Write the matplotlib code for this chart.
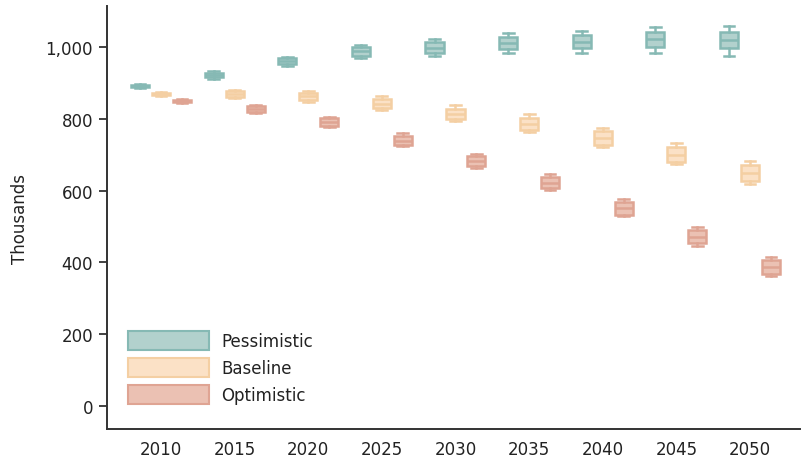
import matplotlib
matplotlib.use("Agg")
import matplotlib.pyplot as plt
from matplotlib.patches import Patch

years = ["2010", "2015", "2020", "2025", "2030", "2035", "2040", "2045", "2050"]
series = ["Pessimistic", "Baseline", "Optimistic"]

# per year: (whisker_low, q1, median, q3, whisker_high)
pessimistic = [
    (886, 888, 891, 894, 896),
    (912, 916, 922, 928, 932),
    (946, 952, 960, 968, 973),
    (968, 975, 988, 1000, 1006),
    (974, 984, 998, 1013, 1021),
    (982, 994, 1010, 1028, 1038),
    (983, 996, 1015, 1034, 1045),
    (984, 1001, 1021, 1042, 1056),
    (976, 996, 1019, 1041, 1057),
]
baseline = [
    (862, 865, 868, 872, 874),
    (857, 861, 869, 876, 881),
    (848, 852, 862, 871, 876),
    (825, 829, 842, 854, 862),
    (795, 799, 813, 828, 837),
    (763, 768, 786, 803, 812),
    (721, 726, 746, 765, 775),
    (673, 680, 699, 721, 732),
    (619, 626, 649, 671, 682),
]
optimistic = [
    (844, 846, 849, 852, 854),
    (815, 819, 827, 835, 839),
    (776, 780, 792, 802, 806),
    (723, 727, 739, 751, 759),
    (662, 668, 682, 696, 703),
    (602, 607, 621, 638, 647),
    (528, 532, 551, 568, 576),
    (447, 453, 472, 490, 499),
    (362, 368, 387, 406, 416),
]

edge_colors = ["#86b9b4", "#f4cf a3".replace(" ", ""), "#dfa493"]
fill_colors = ["#b2d1cd", "#fbe1c6", "#ebc1b3"]

fig = plt.figure(figsize=(8.02, 4.60), dpi=100)
ax = fig.add_axes([107 / 802, 1 - 430 / 460, 693 / 802, 423 / 460])

offsets = [-0.285, 0.0, 0.285]
width = 0.245
for s, data in enumerate([pessimistic, baseline, optimistic]):
    stats = []
    for wl, q1, med, q3, wh in data:
        stats.append(dict(whislo=wl, q1=q1, med=med, q3=q3, whishi=wh, fliers=[]))
    pos = [i + offsets[s] for i in range(len(years))]
    ec = edge_colors[s]
    ax.bxp(stats, positions=pos, widths=width, patch_artist=True,
           showfliers=False, manage_ticks=False,
           boxprops=dict(facecolor=fill_colors[s], edgecolor=ec, linewidth=1.8),
           medianprops=dict(color=ec, linewidth=1.8),
           whiskerprops=dict(color=ec, linewidth=1.8),
           capprops=dict(color=ec, linewidth=1.8),
           capwidths=width * 0.6)

ax.set_xlim(-0.734, 8.68)
ax.set_ylim(-64, 1114)
ax.set_xticks(range(len(years)))
ax.set_xticklabels(years)
ax.set_yticks([0, 200, 400, 600, 800, 1000])
ax.set_yticklabels(["0", "200", "400", "600", "800", "1,000"])
ax.tick_params(axis="x", length=0, labelsize=12, colors="#222222", pad=8)
ax.tick_params(axis="y", length=6, width=1.3, labelsize=12, colors="#333333",
               labelcolor="#222222", pad=4)
for side in ["top", "right"]:
    ax.spines[side].set_visible(False)
for side in ["left", "bottom"]:
    ax.spines[side].set_color("#333333")
    ax.spines[side].set_linewidth(1.4)
ax.set_ylabel("Thousands", fontsize=12, color="#222222", labelpad=12)

handles = [Patch(facecolor=fill_colors[i], edgecolor=edge_colors[i], linewidth=1.5,
                 label=series[i]) for i in range(3)]
leg = ax.legend(handles=handles, loc="lower left", bbox_to_anchor=(0.030, 0.059),
                frameon=False, fontsize=12, handlelength=4.9, handleheight=1.3,
                handletextpad=0.72, labelspacing=0.5, borderpad=0, borderaxespad=0)
for t in leg.get_texts():
    t.set_color("#222222")

fig.savefig("out.png", dpi=100)
